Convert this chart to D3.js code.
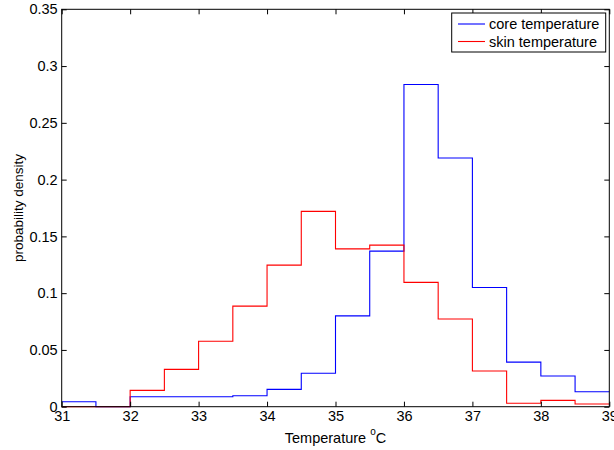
<!DOCTYPE html>
<html><head><meta charset="utf-8">
<script src="https://cdn.jsdelivr.net/npm/d3@7"></script>
<style>body{margin:0;background:#fff}text{font-family:"Liberation Sans",Arial,sans-serif}</style>
</head><body>
<svg id="c" width="614" height="450"></svg>
<script>
const binEdges = [31,31.5,32,32.5,33,33.5,34,34.5,35,35.5,36,36.5,37,37.5,38,38.5,39];
const coreValues = [0.0044,0,0.0088,0.0088,0.0088,0.0097,0.0153,0.0294,0.080,0.137,0.2838,0.219,0.105,0.0393,0.027,0.0132];
const skinValues = [0,0,0.0144,0.0329,0.0576,0.0886,0.1247,0.172,0.139,0.1423,0.1095,0.0772,0.0314,0.003,0.0056,0.0024];
const xTicks = [31,32,33,34,35,36,37,38,39];
const yTicks = [0,0.05,0.1,0.15,0.2,0.25,0.3,0.35];
const seriesNames = ["core temperature","skin temperature"];
const seriesColors = ["#0000ff","#ff0000"];

const svg = d3.select("#c");
const L = 61.7, R = 609.3, T = 9.3, B = 406.7;
const x = d3.scaleLinear().domain([31,39]).range([L,R]);
const y = d3.scaleLinear().domain([0,0.35]).range([B,T]);
const fs = "14.5px";

// series
const line = d3.line().x(d=>x(d[0])).y(d=>y(d[1])).curve(d3.curveStepAfter);
[coreValues, skinValues].forEach((vals,i)=>{
  const pts = vals.map((v,j)=>[binEdges[j],v]);
  pts.push([binEdges[binEdges.length-1], vals[vals.length-1]]);
  svg.append("path").attr("d",line(pts)).attr("fill","none")
    .attr("stroke",seriesColors[i]).attr("stroke-width",1.1);
});

// axes box
const g = svg.append("g");
g.append("rect").attr("x",L).attr("y",T).attr("width",R-L).attr("height",B-T)
  .attr("fill","none").attr("stroke","#000").attr("stroke-width",1);

const axB = d3.axisBottom(x).tickValues(xTicks).tickFormat(d3.format("d")).tickSizeInner(-5).tickSizeOuter(0).tickPadding(4);
const axT = d3.axisTop(x).tickValues(xTicks).tickFormat("").tickSizeInner(-5).tickSizeOuter(0);
const axL = d3.axisLeft(y).tickValues(yTicks).tickFormat(d=>d===0?"0":String(+d.toFixed(2))).tickSizeInner(-5).tickSizeOuter(0).tickPadding(4);
const axR = d3.axisRight(y).tickValues(yTicks).tickFormat("").tickSizeInner(-5).tickSizeOuter(0);
[[axB,`translate(0,${B})`],[axT,`translate(0,${T})`],[axL,`translate(${L},0)`],[axR,`translate(${R},0)`]].forEach(([a,t])=>{
  const ag = svg.append("g").attr("transform",t).call(a);
  ag.select(".domain").remove();
  ag.selectAll("line").attr("stroke","#000");
  ag.selectAll("text").attr("fill","#000").style("font-size",fs).style("font-family",'"Liberation Sans",Arial,sans-serif');
});

// labels
const xl = svg.append("text").attr("x",(L+R)/2).attr("y",443).attr("text-anchor","middle").style("font-size",fs).attr("fill","#000");
xl.append("tspan").text("Temperature ");
xl.append("tspan").attr("dy",-8).style("font-size","10px").text("o");
xl.append("tspan").attr("dy",8).text("C");
svg.append("text").attr("transform",`translate(23,${(T+B)/2}) rotate(-90)`).attr("text-anchor","middle")
  .style("font-size","13.5px").attr("fill","#000").text("probability density");

// legend
const lg = svg.append("g");
lg.append("rect").attr("x",451.7).attr("y",13).attr("width",154).attr("height",39).attr("fill","#fff").attr("stroke","#000").attr("stroke-width",1);
seriesNames.forEach((n,i)=>{
  const yy = 24 + i*17.5;
  lg.append("line").attr("x1",458).attr("x2",485).attr("y1",yy).attr("y2",yy).attr("stroke",seriesColors[i]).attr("stroke-width",1.1);
  lg.append("text").attr("x",489).attr("y",yy+5).style("font-size",fs).attr("fill","#000").text(n);
});
</script>
</body></html>
